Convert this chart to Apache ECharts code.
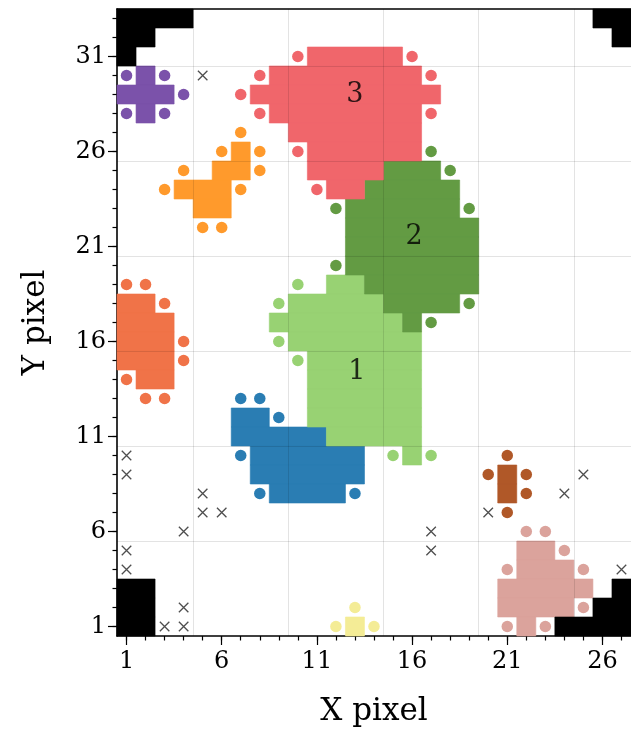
<!DOCTYPE html>
<html>
<head>
<meta charset="utf-8">
<style>
html, body { margin: 0; padding: 0; background: #fff; }
#chart { width: 631px; height: 732px; }
</style>
<script src="https://cdn.jsdelivr.net/npm/echarts@6/dist/echarts.min.js"></script>
</head>
<body>
<div id="chart"></div>
<script>
// tick labels
var xTicks = [1, 6, 11, 16, 21, 26];
var yTicks = [1, 6, 11, 16, 21, 26, 31];
var xMinor = [1,2,3,4,5,6,7,8,9,10,11,12,13,14,15,16,17,18,19,20,21,22,23,24,25,26,27];
var yMinor = [1,2,3,4,5,6,7,8,9,10,11,12,13,14,15,16,17,18,19,20,21,22,23,24,25,26,27,28,29,30,31,32,33];
var gridX = [4.5, 9.5, 14.5, 19.5, 24.5];
var gridY = [5.5, 10.5, 15.5, 20.5, 25.5, 30.5];

// filled pixels as runs: [row, firstCol, lastCol]
var cells3 = [[31,11,15],[30,9,16],[29,8,17],[28,9,16],[27,10,16],[26,11,16],[25,11,14],[24,12,13]];
var cells2 = [[25,15,17],[24,14,18],[23,13,18],[22,13,19],[21,13,19],[20,13,19],[19,14,19],[18,15,18],[17,16,16]];
var cells1 = [[19,12,13],[18,10,14],[17,9,15],[16,10,16],[15,11,16],[14,11,16],[13,11,16],[12,11,16],[11,12,16],[10,16,16]];
var cellsBlue = [[12,7,8],[11,7,11],[10,8,13],[9,8,13],[8,9,12]];
var cellsPurple = [[30,2,2],[29,1,3],[28,2,2]];
var cellsOrange = [[26,7,7],[25,6,7],[24,4,6],[23,5,6]];
var cellsTomato = [[18,1,2],[17,1,3],[16,1,3],[15,1,3],[14,2,3]];
var cellsBrown = [[9,21,21],[8,21,21]];
var cellsPink = [[5,22,23],[4,22,24],[3,21,25],[2,21,24],[1,22,22]];
var cellsYellow = [[1,13,13]];
var cellsMask = [[33,1,4],[32,1,2],[31,1,1],[33,26,27],[32,27,27],[3,1,2],[2,1,2],[1,1,2],[1,24,27],[2,26,27],[3,27,27]];

// edge pixels: [x, y]
var dots3 = [[10,31],[16,31],[8,30],[17,30],[7,29],[8,28],[17,28],[10,26],[11,24]];
var dots2 = [[17,26],[18,25],[19,23],[12,23],[12,20],[19,18],[17,17]];
var dots1 = [[10,19],[9,18],[9,16],[10,15],[15,10],[17,10]];
var dotsBlue = [[7,13],[8,13],[9,12],[7,10],[8,8],[13,8]];
var dotsPurple = [[1,30],[3,30],[4,29],[1,28],[3,28]];
var dotsOrange = [[7,27],[6,26],[8,26],[4,25],[8,25],[3,24],[7,24],[5,22],[6,22]];
var dotsTomato = [[1,19],[2,19],[3,18],[4,16],[4,15],[1,14],[2,13],[3,13]];
var dotsBrown = [[21,10],[20,9],[22,9],[22,8],[21,7]];
var dotsPink = [[22,6],[23,6],[24,5],[21,4],[25,4],[25,2],[21,1],[23,1]];
var dotsYellow = [[13,2],[12,1],[14,1]];

// noise pixels
var noise = [[5,30],[1,10],[1,9],[5,8],[5,7],[6,7],[4,6],[1,5],[1,4],[4,2],[3,1],[4,1],
  [20,7],[24,8],[25,9],[17,6],[17,5],[27,4]];

// cluster labels
var labels = [[13.1,14.4,'1'],[16.1,21.5,'2'],[13.0,29.0,'3']];

var groups = [
  { cells: cellsPurple, dots: dotsPurple, color: '#7b52aa' },
  { cells: cellsOrange, dots: dotsOrange, color: '#ff9a2c' },
  { cells: cellsTomato, dots: dotsTomato, color: '#f07348' },
  { cells: cellsBlue, dots: dotsBlue, color: '#2a7db3' },
  { cells: cells1, dots: dots1, color: '#98d273' },
  { cells: cells2, dots: dots2, color: '#639b43' },
  { cells: cells3, dots: dots3, color: '#f0666b' },
  { cells: cellsBrown, dots: dotsBrown, color: '#b05828' },
  { cells: cellsPink, dots: dotsPink, color: '#dba39c' },
  { cells: cellsYellow, dots: dotsYellow, color: '#f4ec96' },
  { cells: cellsMask, dots: [], color: '#000000' }
];

var FONT = 'DejaVu Serif';

function runSeries(data, color) {
  return {
    type: 'custom',
    data: data,
    z: 2,
    renderItem: function (params, api) {
      var row = api.value(0), c0 = api.value(1), c1 = api.value(2);
      var p0 = api.coord([c0 - 0.5, row + 0.5]);
      var p1 = api.coord([c1 + 0.5, row - 0.5]);
      return {
        type: 'rect',
        shape: { x: p0[0], y: p0[1], width: p1[0] - p0[0], height: p1[1] - p0[1] },
        style: { fill: color, stroke: color, lineWidth: 0.6 }
      };
    }
  };
}

var series = [];
groups.forEach(function (g) {
  series.push(runSeries(g.cells, g.color));
});
// grid lines on top of the fills
series.push({
  type: 'scatter',
  data: [],
  z: 3,
  markLine: {
    silent: true,
    symbol: 'none',
    label: { show: false },
    lineStyle: { color: 'rgba(0,0,0,0.11)', width: 1, type: 'solid' },
    data: gridX.map(function (v) { return { xAxis: v }; })
      .concat(gridY.map(function (v) { return { yAxis: v }; }))
  }
});
groups.forEach(function (g) {
  if (!g.dots.length) return;
  series.push({
    type: 'scatter',
    data: g.dots,
    z: 4,
    symbolSize: 11.5,
    itemStyle: { color: g.color, opacity: 1 }
  });
});
series.push({
  type: 'scatter',
  data: noise,
  z: 4,
  symbol: 'path://M0,0L10,10M10,0L0,10',
  symbolSize: 9.5,
  itemStyle: { color: 'rgba(0,0,0,0)', borderColor: '#222', borderWidth: 1.3 }
});
series.push({
  type: 'scatter',
  data: labels,
  z: 5,
  symbolSize: 0,
  label: {
    show: true,
    position: 'inside',
    formatter: function (p) { return p.value[2]; },
    fontFamily: FONT,
    fontSize: 27,
    color: '#000'
  }
});

var tickStyle = { color: '#000', width: 1.2 };
var chart = echarts.init(document.getElementById('chart'));
chart.setOption({
  animation: false,
  backgroundColor: '#fff',
  grid: { left: 117, top: 9, width: 515, height: 628.5 },
  xAxis: [
    {
      type: 'value', min: 0.5, max: 27.5, position: 'bottom',
      name: 'X pixel', nameLocation: 'middle', nameGap: 60,
      nameTextStyle: { fontFamily: FONT, fontSize: 31, color: '#000' },
      axisLine: { show: true, lineStyle: { color: '#000', width: 1.6 } },
      axisTick: { show: true, length: 9, lineStyle: tickStyle, customValues: xTicks },
      axisLabel: { customValues: xTicks, fontFamily: FONT, fontSize: 24, color: '#000', margin: 14 },
      splitLine: { show: false }
    },
    {
      type: 'value', min: 0.5, max: 27.5, position: 'bottom',
      axisLine: { show: false },
      axisTick: { show: true, length: 4.5, lineStyle: tickStyle, customValues: xMinor },
      axisLabel: { show: false },
      splitLine: { show: false }
    },
    {
      type: 'value', min: 0.5, max: 27.5, position: 'top',
      axisLine: { show: true, lineStyle: { color: '#000', width: 1.6 } },
      axisTick: { show: false }, axisLabel: { show: false }, splitLine: { show: false }
    }
  ],
  yAxis: [
    {
      type: 'value', min: 0.5, max: 33.5, position: 'left',
      name: 'Y pixel', nameLocation: 'middle', nameGap: 66,
      nameTextStyle: { fontFamily: FONT, fontSize: 31, color: '#000' },
      axisLine: { show: true, lineStyle: { color: '#000', width: 1.6 } },
      axisTick: { show: true, length: 9, lineStyle: tickStyle, customValues: yTicks },
      axisLabel: { customValues: yTicks, fontFamily: FONT, fontSize: 24, color: '#000', margin: 11 },
      splitLine: { show: false }
    },
    {
      type: 'value', min: 0.5, max: 33.5, position: 'left',
      axisLine: { show: false },
      axisTick: { show: true, length: 4.5, lineStyle: tickStyle, customValues: yMinor },
      axisLabel: { show: false },
      splitLine: { show: false }
    }
  ],
  series: series
});
</script>
</body>
</html>
